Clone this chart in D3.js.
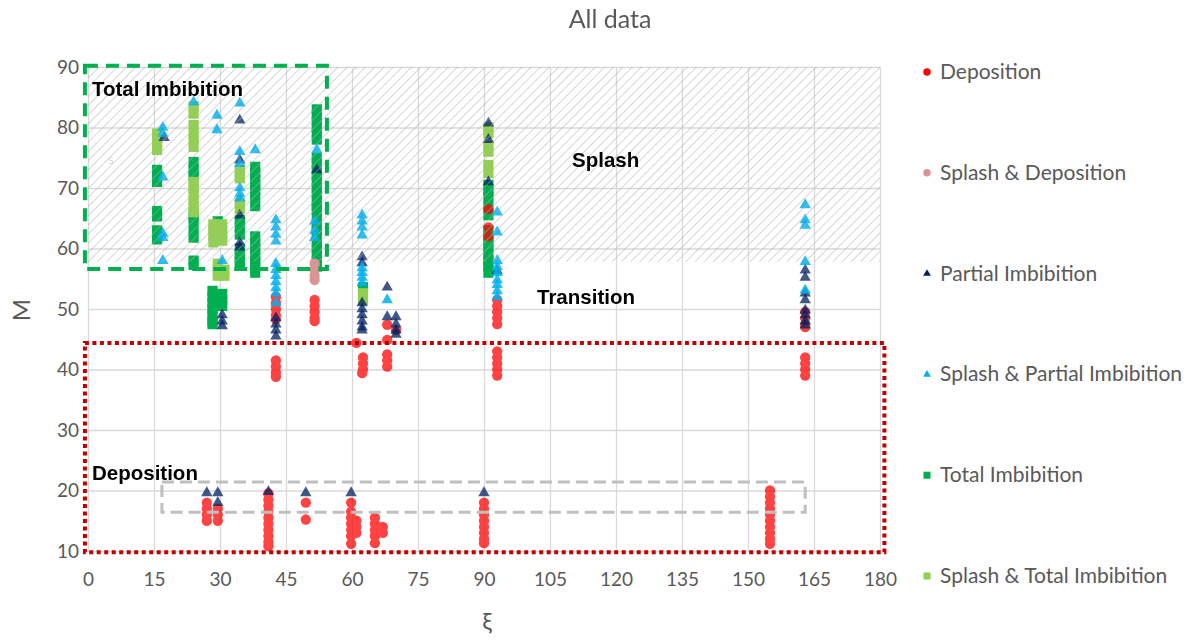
<!DOCTYPE html>
<html>
<head>
<meta charset="utf-8">
<script src="https://cdn.jsdelivr.net/npm/d3@7"></script>
<style>
body { margin: 0; background: #fff; }
text { font-family: Lato, "Open Sans", sans-serif; }
</style>
</head>
<body>
<svg id="chart" width="1192" height="641"></svg>
<script>
const xTicks = [0, 15, 30, 45, 60, 75, 90, 105, 120, 135, 150, 165, 180];
const yTicks = [10, 20, 30, 40, 50, 60, 70, 80, 90];

// [xi, M]
const deposition = [
    [27,18],[27,17],[27,16],[27,15],
    [29.5,17],[29.5,16],[29.5,15],
    [41,19.5],[41,18.5],[41,17.5],[41,16.5],[41,15.5],[41,14.5],[41,13.5],[41,12.5],[41,11.5],[41,10.8],
    [49.5,18],[49.5,15.2],
    [59.8,18],[59.8,16.5],[59.8,15.5],[59.8,14.5],[59.8,13.5],[59.8,12.5],[59.8,11.2],
    [61,15],[61,14],[61,13],
    [65.2,15.5],[65.2,14.5],[65.2,13.5],[65.2,12.5],[65.2,11.3],
    [67,14],[67,13],
    [90,18],[90,17],[90,16],[90,15],[90,14],[90,13],[90,12],[90,11.3],
    [155,20],[155,19],[155,18],[155,17],[155,16],[155,15],[155,14],[155,13],[155,12],[155,11.2],
    [42.7,52],[42.7,51],[42.7,50],[42.7,49],[42.7,48.3],
    [42.7,41.5],[42.7,40.5],[42.7,39.5],[42.7,38.8],
    [51.5,51.5],[51.5,50.5],[51.5,49.5],[51.5,48.5],[51.5,48],
    [61,44.4],
    [62.5,42],[62.5,41],[62.5,40],[62.3,39.4],
    [68,47.4],[68,44.9],[68,42.5],[68,41.5],[68,40.5],
    [70,46.5],
    [91,66.5],[91,63.5],[91,62],
    [93,51.5],[93,50.5],[93,49.5],[93,48.5],[93,47.5],
    [93,43],[93,42],[93,41],[93,40],[93,39],
    [163,49.5],[163,48.5],[163,47.5],[163,47],
    [163,42],[163,41],[163,40],[163,39]
];
const splashDeposition = [[51.5,57.5],[51.5,56.5],[51.5,55.5],[51.5,54.8]];
const partialImbibition = [
    [17.3,78.3],
    [34.5,81.2],[34.5,74.6],[34.5,65.5],[34.5,61],[34.5,60.2],
    [30.5,49],[30.5,48],[30.5,47.2],
    [42.7,48.5],[42.7,47.5],[42.7,46.5],[42.7,45.5],
    [52,73],
    [62.3,58.6],[62.3,57.6],[62.3,51],[62.3,50],[62.3,49],[62.3,48],[62.3,47],[62.3,46.5],
    [68,53.6],[68,48.7],
    [70,48.7],[70,47.5],[70,46.5],[70,45.8],
    [91,80.7],[91,78],[91,71],
    [93,56.3],
    [163,56.4],[163,55.2],[163,52.6],[163,51.5],[163,49.8],[163,49],[163,48],[163,47.3],
    [27,19.6],[29.5,19.6],[29.5,18],[41,19.8],[49.5,19.6],[59.8,19.6],[90,19.6]
];
const splashPartial = [
    [17,80],[17,79],[17,71.8],[17,62.5],[17,61.8],[17,58],
    [24,84.2],
    [29.3,82],[29.3,79.6],[30.5,58],
    [34.5,84],[34.5,76],[34.5,74],[34.5,70],[34.5,69],[34.5,68.3],
    [38,76.3],
    [42.7,64.7],[42.7,63.5],[42.7,62.3],[42.7,61.2],
    [42.7,57.5],[42.7,56.5],[42.7,55.5],[42.7,54.5],[42.7,53.5],[42.7,52.6],[42.7,51],
    [52,76.3],[51.5,64.5],[51.5,63],[51.5,61.8],
    [62.3,65.5],[62.3,64.5],[62.3,63.5],[62.3,62.2],
    [62.3,56.8],[62.3,56],[62.3,55.2],[62.3,54.3],
    [68,51.5],
    [93,66],[93,62.7],[93,58],[93,57],[93,56],[93,54.8],[93,54],[93,53],[93,52],
    [163,67.2],[163,64.7],[163,63.8],[163,57.8],[163,53.1]
];
const totalImbibition = [
    [15.7,73],[15.7,72],[15.7,71],[15.7,66.2],[15.7,65.3],[15.7,63],[15.7,62],[15.7,61.5],
    [24,74.3],[24,73],[24,72],[24,65.5],[24,64.5],[24,63],[24,61.8],[24,58],[24,57.3],
    [28.3,53],[28.3,52],[28.3,51],[28.3,50],[28.3,49],[28.3,48],[28.3,47.5],
    [30.5,52.5],[30.5,51.5],[30.5,50.5],
    [29.5,64.5],
    [34.5,64.7],[34.5,63.5],[34.5,62.3],[34.5,60],[34.5,59],[34.5,58],[34.5,57.2],
    [38,73.5],[38,72.5],[38,71.5],[38,70.5],[38,69.7],[38,68.5],[38,67],
    [38,62],[38,61],[38,60],[38,59],[38,58],[38,57],[38,56],
    [52,83],[52,82],[52,81],[52,80],[52,79],[52,78],
    [52,75],[52,74],[52,73],[52,72],[52,71],[52,70],[52,69],[52,68],[52,67],[52,66.4],
    [52,65],[52,64],[52,63],[52,62],[52,61],[52,60],[52,59],[52,58],[52,57],
    [62.5,53.6],
    [91,70.5],[91,69.5],[91,68.5],[91,66.9],[91,65.5],[91,63],[91,62],[91,61],[91,60.2],[91,59],[91,58],[91,57],[91,56]
];
const splashTotal = [
    [15.7,79],[15.7,78],[15.7,77],[15.7,76.3],
    [24,83.5],[24,82.3],[24,80.4],[24,79],[24,78],[24,76.8],
    [24,71],[24,70],[24,69],[24,68],[24,67],[24,66],
    [28.5,64],[28.5,63],[28.5,62],[28.5,61],[30.5,64],[30.5,63],[30.5,62],[30.5,61.3],
    [29.5,57.5],[29.5,56.5],[29.5,55.5],[31,56.5],[31,55.5],
    [34.5,73],[34.5,72],[34.5,71.6],[34.5,67.5],[34.5,66.5],
    [62.5,52.6],[62.5,51.5],
    [91,80],[91,79],[91,77],[91,76],[91,73.8],[91,72.5]
];

const seriesNames = ['Deposition', 'Splash & Deposition', 'Partial Imbibition',
    'Splash & Partial Imbibition', 'Total Imbibition', 'Splash & Total Imbibition'];

// region boxes in data units [xi0, xi1, M0, M1]
const splashZone = [0, 180, 57.8, 90];
const totalBox = [-0.7, 54.3, 56.6, 90.2];
const depositionBox = [-0.7, 181, 9.8, 44.4];
const grayBox = [16.8, 163, 16.4, 21.4];

let svg = d3.select('#chart');
let plot = {'left': 88, 'right': 880, 'top': 67, 'bottom': 551};

let x = d3.scaleLinear().domain([0, 180]).range([plot.left, plot.right]);
let y = d3.scaleLinear().domain([10, 90]).range([plot.bottom, plot.top]);

let defs = svg.append('defs');
let pat = defs.append('pattern')
    .attr('id', 'hatch')
    .attr('patternUnits', 'userSpaceOnUse')
    .attr('width', 6.5).attr('height', 6.5)
    .attr('patternTransform', 'rotate(45)');
pat.append('line')
    .attr('x1', 0).attr('y1', 0).attr('x2', 0).attr('y2', 6.5)
    .attr('stroke', '#b0b0b0').attr('stroke-width', 1.2).attr('stroke-opacity', 0.85);

// gridlines --------------------------------------------------------------
svg.append('g')
    .attr('transform', 'translate(0,' + plot.bottom + ')')
    .call(d3.axisBottom(x).tickValues(xTicks).tickSize(-(plot.bottom - plot.top)).tickFormat(''))
    .call(g => g.select('.domain').remove())
    .selectAll('line').attr('stroke', '#d9d9d9').attr('stroke-width', 1.3);
svg.append('g')
    .attr('transform', 'translate(' + plot.left + ',0)')
    .call(d3.axisLeft(y).tickValues(yTicks).tickSize(-(plot.right - plot.left)).tickFormat(''))
    .call(g => g.select('.domain').remove())
    .selectAll('line').attr('stroke', '#d9d9d9').attr('stroke-width', 1.3);

// tick labels
let xAxis = svg.append('g')
    .attr('transform', 'translate(0,' + plot.bottom + ')')
    .call(d3.axisBottom(x).tickValues(xTicks).tickSize(0).tickPadding(22));
xAxis.select('.domain').remove();
xAxis.selectAll('text').attr('fill', '#595959').style('font-size', '19px').style('font-family', 'Lato');

let yAxis = svg.append('g')
    .attr('transform', 'translate(' + plot.left + ',0)')
    .call(d3.axisLeft(y).tickValues(yTicks).tickSize(0).tickPadding(9));
yAxis.select('.domain').remove();
yAxis.selectAll('text').attr('fill', '#595959').style('font-size', '19px').style('font-family', 'Lato');

// markers ----------------------------------------------------------------
let sq = d3.symbol().type(d3.symbolSquare).size(104);
let circ = d3.symbol().type(d3.symbolCircle).size(84);
let tri = d3.symbol().type(d3.symbolTriangle).size(56);

function drawSeries(data, shape, color, opacity, groupOpacity) {
    svg.append('g')
        .attr('opacity', groupOpacity)
        .selectAll('path')
        .data(data)
        .enter().append('path')
        .attr('d', shape)
        .attr('transform', (d) => 'translate(' + x(d[0]) + ',' + y(d[1]) + ')')
        .attr('fill', color)
        .attr('fill-opacity', opacity);
}

drawSeries(totalImbibition, sq, '#00b050', 1, 1);
drawSeries(splashTotal, sq, '#92d050', 1, 1);
drawSeries(deposition, circ, '#ff0000', 1, 0.74);
drawSeries(splashDeposition, circ, '#d99594', 1, 1);
drawSeries(partialImbibition, tri, '#002060', 0.75, 1);
drawSeries(splashPartial, tri, '#00b0f0', 0.85, 1);

// splash hatch on top of the markers
svg.append('rect')
    .attr('x', x(splashZone[0])).attr('y', y(splashZone[3]))
    .attr('width', x(splashZone[1]) - x(splashZone[0]))
    .attr('height', y(splashZone[2]) - y(splashZone[3]))
    .attr('fill', 'url(#hatch)');

// region boxes
function box(b, color, width, dash) {
    svg.append('rect')
        .attr('x', x(b[0])).attr('y', y(b[3]))
        .attr('width', x(b[1]) - x(b[0]))
        .attr('height', y(b[2]) - y(b[3]))
        .attr('fill', 'none')
        .attr('stroke', color)
        .attr('stroke-width', width)
        .attr('stroke-dasharray', dash);
}
box(grayBox, '#bfbfbf', 3, '12 6');
box(depositionBox, '#c00000', 4, '4 3.5');
box(totalBox, '#00b050', 4, '13 8');

// region labels
let labels = [
    {'t': 'Total Imbibition', 'x': 92, 'y': 96},
    {'t': 'Splash', 'x': 572, 'y': 167},
    {'t': 'Transition', 'x': 537, 'y': 304},
    {'t': 'Deposition', 'x': 92, 'y': 480}
];
svg.append('g').selectAll('text')
    .data(labels)
    .enter().append('text')
    .attr('x', (d) => d.x).attr('y', (d) => d.y)
    .style('font-family', '"Liberation Sans", Arial, sans-serif')
    .style('font-weight', 'bold')
    .style('font-size', '20.5px')
    .attr('fill', '#000')
    .text((d) => d.t);

svg.append('text')
    .attr('x', 108).attr('y', 164)
    .attr('fill', '#d9d9d9')
    .style('font-size', '13px')
    .text('s');

// titles
svg.append('text')
    .attr('x', 610).attr('y', 28)
    .attr('text-anchor', 'middle')
    .attr('fill', '#595959')
    .style('font-size', '25px')
    .text('All data');

svg.append('text')
    .attr('transform', 'translate(30,310) rotate(-90)')
    .attr('text-anchor', 'middle')
    .attr('fill', '#595959')
    .style('font-size', '24px')
    .text('M');

svg.append('text')
    .attr('x', 487).attr('y', 630)
    .attr('text-anchor', 'middle')
    .attr('fill', '#595959')
    .style('font-size', '24px')
    .text('ξ');

// legend -----------------------------------------------------------------
let legendShapes = [
    d3.symbol().type(d3.symbolCircle).size(44),
    d3.symbol().type(d3.symbolCircle).size(44),
    d3.symbol().type(d3.symbolTriangle).size(26),
    d3.symbol().type(d3.symbolTriangle).size(26),
    d3.symbol().type(d3.symbolSquare).size(50),
    d3.symbol().type(d3.symbolSquare).size(50)
];
let legendColors = ['#ff0000', '#d99594', '#002060', '#00b0f0', '#00b050', '#92d050'];
let legendY = d3.scaleLinear().domain([0, 5]).range([72, 576]);

let legend = svg.append('g').selectAll('g')
    .data(seriesNames)
    .enter().append('g')
    .attr('transform', (d, i) => 'translate(927,' + legendY(i) + ')');
legend.append('path')
    .attr('d', (d, i) => legendShapes[i]())
    .attr('fill', (d, i) => legendColors[i]);
legend.append('text')
    .attr('x', 13).attr('y', 7)
    .attr('fill', '#595959')
    .style('font-size', '21px')
    .text((d) => d);
</script>
</body>
</html>
